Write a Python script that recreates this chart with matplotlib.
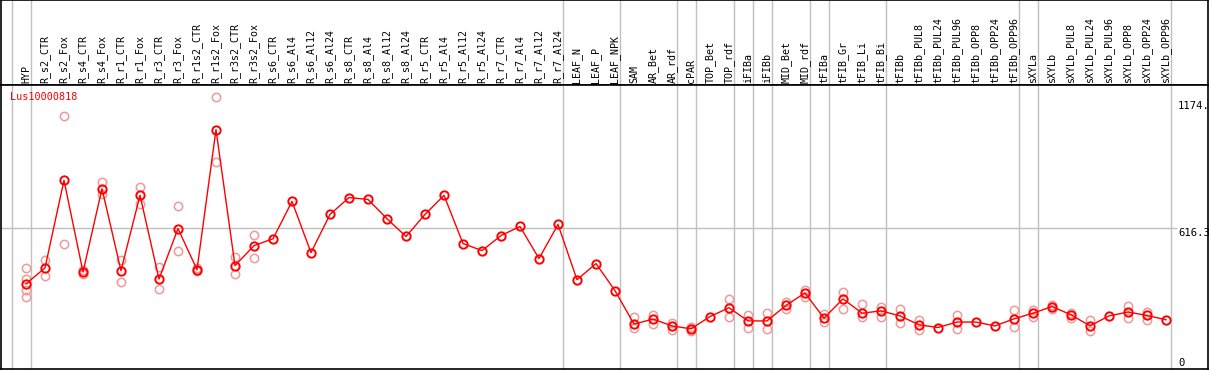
import matplotlib
matplotlib.use('Agg')
import matplotlib.pyplot as plt

# column labels
labels = ['HYP', 'R_s2_CTR', 'R_s2_Fox', 'R_s4_CTR', 'R_s4_Fox', 'R_r1_CTR', 'R_r1_Fox',
          'R_r3_CTR', 'R_r3_Fox', 'R_r1s2_CTR', 'R_r1s2_Fox', 'R_r3s2_CTR', 'R_r3s2_Fox',
          'R_s6_CTR', 'R_s6_Al4', 'R_s6_Al12', 'R_s6_Al24', 'R_s8_CTR', 'R_s8_Al4',
          'R_s8_Al12', 'R_s8_Al24', 'R_r5_CTR', 'R_r5_Al4', 'R_r5_Al12', 'R_r5_Al24',
          'R_r7_CTR', 'R_r7_Al4', 'R_r7_Al12', 'R_r7_Al24', 'LEAF_N', 'LEAF_P', 'LEAF_NPK',
          'SAM', 'AR_Bet', 'AR_rdf', 'cPAR', 'TOP_Bet', 'TOP_rdf', 'iFIBa', 'iFIBb',
          'MID_Bet', 'MID_rdf', 'tFIBa', 'tFIB_Gr', 'tFIB_Li', 'tFIB_Bi', 'tFIBb',
          'tFIBb_PUL8', 'tFIBb_PUL24', 'tFIBb_PUL96', 'tFIBb_OPP8', 'tFIBb_OPP24',
          'tFIBb_OPP96', 'sXYLa', 'sXYLb', 'sXYLb_PUL8', 'sXYLb_PUL24', 'sXYLb_PUL96',
          'sXYLb_OPP8', 'sXYLb_OPP24', 'sXYLb_OPP96']

# mean expression per column
means = [370, 440, 825, 422, 788, 428, 759, 391, 613, 432, 1048, 450, 538,
         568, 732, 507, 675, 749, 741, 656, 578, 675, 759, 547, 516,
         582, 622, 481, 631, 388, 459, 340,
         193, 215, 185, 172, 226, 265, 207, 207, 275, 330, 219, 304, 241, 251,
         229, 190, 178, 202, 202, 185, 216, 241, 270, 234, 185, 229, 246, 231, 212]

# individual replicates per column
reps = [[441, 393, 344, 313], [476, 406], [1106, 543], [432, 415], [819, 763],
        [476, 379], [797, 722], [442, 347], [713, 515], [438, 426], [1190, 907],
        [488, 413], [585, 484], [], [], [], [], [], [], [], [], [], [], [], [],
        [], [], [], [], [], [], [],
        [226, 175], [234, 194], [197, 168], [182, 163], [], [304, 226], [234, 175],
        [241, 171], [292, 260], [344, 312], [238, 204], [334, 260], [281, 222],
        [270, 226], [260, 197], [212, 168], [], [234, 171], [], [], [256, 180],
        [253, 226], [278, 260], [241, 219], [209, 163], [], [273, 219], [246, 212], []]

# group separators (after these column indices)
separators = [-1, 0, 28, 31, 34, 35, 37, 38, 39, 41, 42, 45, 52, 53, 60]

gene = 'Lus10000818'
ytick_vals = [1174, 616.3, 0]
ytick_text = ['1174.', '616.3', '0']

W, H = 1209, 370
fig = plt.figure(figsize=(W / 100, H / 100), dpi=100)

# pixel geometry
x_left, x_right = 1, 1208
head_top, head_bot, plot_bot = 0, 85, 369
x0, dx = 26, 19
xlim = ((x_left - x0) / dx, (x_right - x0) / dx)

def box(top, bot):
    return [x_left / W, (H - bot) / H, (x_right - x_left) / W, (bot - top) / H]

head = fig.add_axes(box(head_top, head_bot))
ax = fig.add_axes(box(head_bot, plot_bot))
grey = '#c0c0c0'
for a in (head, ax):
    a.set_xlim(*xlim)
    a.set_xticks([])
    a.set_yticks([])
    for s in a.spines.values():
        s.set_color('black')
        s.set_linewidth(1.2)
    for sep in separators:
        a.axvline(sep + 0.25, color=grey, lw=1, zorder=0)

mono = 'DejaVu Sans Mono'
head.set_ylim(0, head_bot - head_top)
for i, lab in enumerate(labels):
    head.text(i, 2, lab, rotation=90, ha='center', va='bottom',
              fontsize=7.2, family=mono)

# y axis: 0 at ~368px, 616.3 at ~228px
k = 4.411
ax.set_ylim((368 - plot_bot) * k, (368 - head_bot - 1) * k)
xs = list(range(len(labels)))
ax.hlines(616.3, xlim[0], 60.6, color=grey, lw=1, zorder=0)

for i, r in enumerate(reps):
    if r:
        ax.plot([i] * len(r), r, 'o', ms=6, mfc='none', mec='#ee9a9a', mew=1.1, zorder=2)
ax.plot(xs, means, '-', color='red', lw=1.0, zorder=3)
ax.plot(xs, means, 'o', ms=6, mfc='none', mec='red', mew=1.4, zorder=4)

ax.text(xlim[0] + 9 / dx, 1190, gene, color='red', fontsize=7.3, family=mono,
        va='center', ha='left')
for v, t in zip(ytick_vals, ytick_text):
    ax.text(60.63, v, t, fontsize=7.6, family=mono, ha='left',
            va='bottom' if v == 0 else 'top')

fig.savefig('out.png', dpi=100)
